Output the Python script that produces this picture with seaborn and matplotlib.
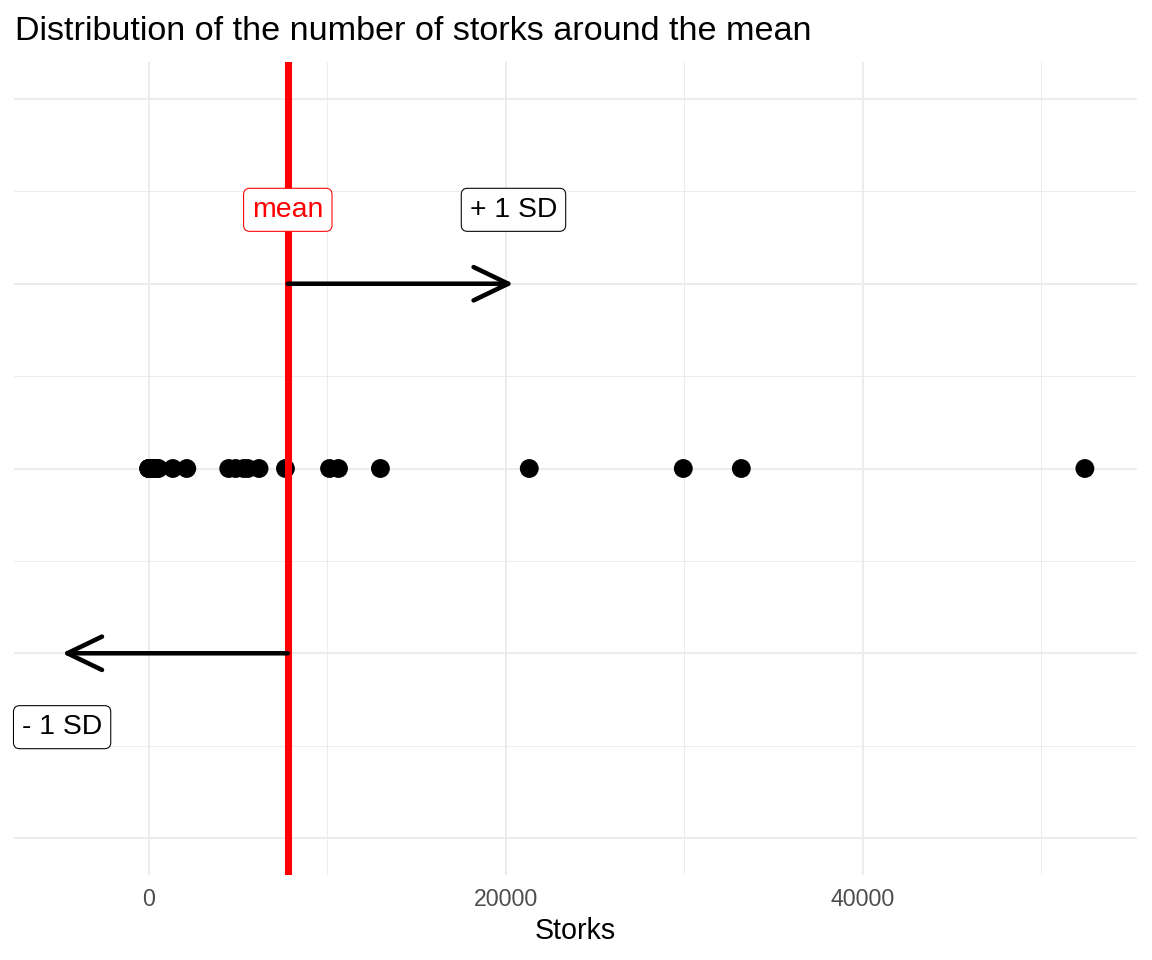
import matplotlib
matplotlib.use("Agg")
import matplotlib.pyplot as plt
import numpy as np
import pandas as pd
import seaborn as sns

sns.set_theme(style="white")
plt.rcParams['font.family'] = ['Liberation Sans', 'DejaVu Sans']

# number of storks per country (overlapping dots near 0 estimated)
storks = [0, 0, 10, 30, 50, 80, 120, 200, 300, 350, 450, 550,
          1350, 2130, 4480, 4870, 5320, 5550, 6180, 7660,
          10130, 10630, 12980, 21320, 29950, 33200, 52450]
x_ticks = [0, 20000, 40000]
x_minor = [10000, 30000, 50000]
x_limits = [-7550, 55370]
y_ticks = [-1, -0.5, 0, 0.5, 1]
y_minor = [-0.75, -0.25, 0.25, 0.75]

df = pd.DataFrame({'Storks': storks, 'y': 0.0})
mean_storks = np.mean(storks)
sd_storks = np.std(storks, ddof=1)  # same as R sd()

fig = plt.figure(figsize=(12, 10), dpi=96)
ax = fig.add_axes([14/1152, 1 - 875/960, (1137 - 14)/1152, (875 - 62)/960])

sns.scatterplot(data=df, x='Storks', y='y', ax=ax, color='black', s=200,
                edgecolor='none', zorder=3)

ax.axvline(mean_storks, color='red', lw=5.3, zorder=4)

arrow_kw = dict(arrowstyle='->,head_length=2.6,head_width=1.25', lw=3.4,
                color='black', shrinkA=0, shrinkB=0, mutation_scale=10)
ax.annotate('', xy=(mean_storks + sd_storks, 0.5), xytext=(mean_storks, 0.5),
            arrowprops=arrow_kw, zorder=5)
ax.annotate('', xy=(mean_storks - sd_storks, -0.5), xytext=(mean_storks, -0.5),
            arrowprops=arrow_kw, zorder=5)

box_black = dict(boxstyle='round,pad=0.3,rounding_size=0.22', fc='white', ec='black', lw=0.8)
box_red = dict(boxstyle='round,pad=0.3,rounding_size=0.22', fc='white', ec='red', lw=0.8)
ax.text(mean_storks, 0.7, 'mean', color='red', fontsize=21.3, ha='center', va='center',
        bbox=box_red, zorder=6)
ax.text(mean_storks + sd_storks, 0.7, '+ 1 SD', color='black', fontsize=21.3, ha='center',
        va='center', bbox=box_black, zorder=6)
ax.text(mean_storks - sd_storks, -0.7, '- 1 SD', color='black', fontsize=21.3, ha='center',
        va='center', bbox=box_black, zorder=6)

ax.set_xlim(x_limits)
ax.set_ylim(-1.1, 1.1)

ax.set_xticks(x_ticks)
ax.set_xticks(x_minor, minor=True)
ax.set_yticks(y_ticks)
ax.set_yticks(y_minor, minor=True)
ax.set_yticklabels([])
ax.grid(which='major', color='#EBEBEB', lw=1.4)
ax.grid(which='minor', color='#EBEBEB', lw=0.7)
ax.set_axisbelow(True)
ax.tick_params(which='both', length=0)
ax.tick_params(axis='x', labelsize=17.3, labelcolor='#4D4D4D', pad=10)
for s in ax.spines.values():
    s.set_visible(False)

ax.set_xlabel('Storks', fontsize=21.5, color='black', labelpad=4)
ax.set_ylabel('')

fig.text(15/1152, 1 - 40/960, 'Distribution of the number of storks around the mean',
         fontsize=25.6, color='black', ha='left', va='baseline')

fig.savefig('out.png', dpi=96, facecolor='white')
